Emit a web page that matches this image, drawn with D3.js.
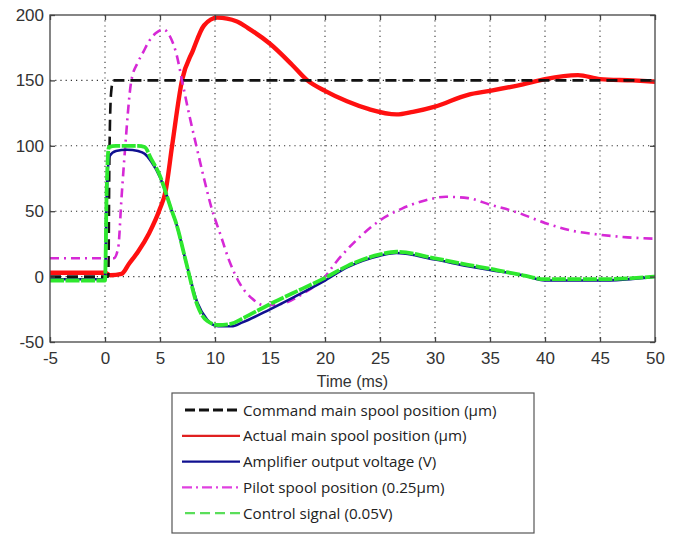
<!DOCTYPE html>
<html>
<head>
<meta charset="utf-8">
<script src="https://cdn.jsdelivr.net/npm/d3@7"></script>
<style>
  body { margin: 0; background: #fff; }
  svg { display: block; }
</style>
</head>
<body>
<svg id="chart" width="678" height="534"></svg>
<script>
// [time ms, value]
const command = [[-5, 0], [0.3, 0], [0.4, 90], [0.55, 140], [0.75, 150], [50, 150]];
const actual = [[-5, 3], [0, 3], [0.5, 1], [1.5, 2], [2.2, 10], [3, 19], [4, 33], [5, 52], [5.5, 65],
  [6.1, 100], [7, 150], [8, 173], [9, 192], [10.2, 198], [12, 195], [13, 190], [15, 178],
  [17, 162], [18.4, 150], [20, 142], [22, 134], [24, 128], [26.5, 124], [28, 126], [30, 130],
  [33, 139], [35, 142], [38, 147], [40, 151], [43, 154], [45, 151], [48, 150], [50, 149]];
const amplifier = [[-5, -2], [0, -2], [0.15, 60], [0.4, 92], [1, 96], [2, 97], [3, 96], [3.6, 94],
  [4.2, 88], [5, 76], [5.5, 65], [6, 52], [6.5, 40], [7.4, 10], [8.4, -20], [9.3, -33], [10.3, -38],
  [11.5, -38], [12.5, -35], [15, -25], [18, -12], [20, -3], [22, 7], [25, 16], [26.5, 18],
  [30, 13], [33, 8], [35, 5], [38, 1], [40, -3], [45, -3], [50, 0]];
const pilot = [[-5, 14], [0.8, 14], [1.2, 22], [1.5, 60], [1.8, 95], [2.4, 150], [3, 164],
  [3.5, 172], [4, 180], [4.6, 186], [5.3, 189], [6, 182], [6.5, 170], [7, 150], [7.7, 122],
  [8.3, 100], [9, 75], [9.7, 52], [10.5, 32], [11.3, 12], [12.3, -6], [13.4, -17], [14.5, -22],
  [16, -21], [18, -13], [20, 0], [21, 11], [23, 29], [25, 43], [27, 52], [29, 58], [31, 61],
  [33, 60], [35, 55], [37.5, 49], [40, 41], [42.5, 35], [45, 32], [47.5, 30], [50, 29]];
const control = [[-5, -3], [0, -3], [0.15, 65], [0.35, 99], [1, 100], [2, 100], [3, 100],
  [3.6, 99], [4.2, 90], [5, 77], [5.5, 65], [6, 52], [6.5, 40], [7.4, 10], [8.4, -22], [9.3, -34],
  [10.3, -37], [11.5, -36], [12.5, -32], [15, -21], [18, -9], [20, -1], [22, 8], [25, 17],
  [26.5, 19], [30, 14], [33, 9], [35, 6], [38, 1], [40, -2], [45, -2], [50, 0]];

const xTicks = [-5, 0, 5, 10, 15, 20, 25, 30, 35, 40, 45, 50];
const yTicks = [-50, 0, 50, 100, 150, 200];

const seriesNames = [
  'Command main spool position (\u00b5m)',
  'Actual main spool position (\u00b5m)',
  'Amplifier output voltage (V)',
  'Pilot spool position (0.25\u00b5m)',
  'Control signal (0.05V)'
];

const svg = d3.select('#chart');
const plotL = 50, plotR = 655, plotT = 15, plotB = 342;

const x = d3.scaleLinear().domain([-5, 50]).range([plotL, plotR]);
const y = d3.scaleLinear().domain([-50, 200]).range([plotB, plotT]);

// grid
const grid = svg.append('g').attr('stroke', '#333').attr('stroke-width', 1.1).attr('stroke-dasharray', '1.2,4');
grid.selectAll('.gx').data(xTicks.slice(1, -1)).enter().append('line')
  .attr('x1', d => x(d)).attr('x2', d => x(d)).attr('y1', plotT).attr('y2', plotB);
grid.selectAll('.gy').data(yTicks.slice(1, -1)).enter().append('line')
  .attr('y1', d => y(d)).attr('y2', d => y(d)).attr('x1', plotL).attr('x2', plotR);

// series
const line = d3.line().x(d => x(d[0])).y(d => y(d[1])).curve(d3.curveMonotoneX);
const series = [
  { data: actual, color: '#ff1010', width: 4.4, dash: null },
  { data: command, color: '#111', width: 2.6, dash: '11,6' },
  { data: pilot, color: '#d629d6', width: 2.6, dash: '9,5,2,5' },
  { data: amplifier, color: '#101090', width: 2.6, dash: null },
  { data: control, color: '#2ee82e', width: 3.8, dash: '14,1.5' }
];
series.forEach(s => {
  svg.append('path').datum(s.data)
    .attr('fill', 'none').attr('stroke', s.color).attr('stroke-width', s.width)
    .attr('stroke-linejoin', 'round')
    .attr('stroke-dasharray', s.dash).attr('d', line);
});

// axes box + ticks
svg.append('rect').attr('x', plotL).attr('y', plotT).attr('width', plotR - plotL).attr('height', plotB - plotT)
  .attr('fill', 'none').attr('stroke', '#444').attr('stroke-width', 1.3);

const fmt = d => String(d);
svg.append('g').attr('transform', `translate(0,${plotB})`)
  .call(d3.axisBottom(x).tickValues(xTicks).tickSize(-5).tickPadding(10).tickFormat(fmt));
svg.append('g').attr('transform', `translate(${plotL},0)`)
  .call(d3.axisLeft(y).tickValues(yTicks).tickSize(-5).tickPadding(6).tickFormat(fmt));
svg.append('g').attr('transform', `translate(0,${plotT})`)
  .call(d3.axisTop(x).tickValues(xTicks).tickSize(-5).tickFormat(''));
svg.append('g').attr('transform', `translate(${plotR},0)`)
  .call(d3.axisRight(y).tickValues(yTicks).tickSize(-5).tickFormat(''));
svg.selectAll('.domain').remove();
svg.selectAll('.tick line').attr('stroke', '#444').attr('stroke-width', 1.3);
svg.selectAll('.tick text').attr('fill', '#333')
  .style('font-family', '"Liberation Sans", Arial, sans-serif').style('font-size', '17px');

svg.append('text').attr('x', x(22.5)).attr('y', 387).attr('text-anchor', 'middle')
  .attr('fill', '#333').style('font-family', '"Liberation Sans", Arial, sans-serif').style('font-size', '16px')
  .text('Time (ms)');

// legend
const lg = svg.append('g');
lg.append('rect').attr('x', 172).attr('y', 393).attr('width', 362).attr('height', 140)
  .attr('fill', '#fff').attr('stroke', '#555').attr('stroke-width', 1.2);
const legendStyles = [
  { color: '#111', width: 2.8, dash: '10,4', x1: 185 },
  { color: '#e02020', width: 2.2, dash: null, x1: 182 },
  { color: '#101090', width: 2.2, dash: null, x1: 182 },
  { color: '#e040e0', width: 2.2, dash: '10,4,2,4', x1: 182 },
  { color: '#5ade5a', width: 2.2, dash: '10,5', x1: 185 }
];
seriesNames.forEach((name, i) => {
  const cy = 410 + i * 25.8;
  const st = legendStyles[i];
  lg.append('line').attr('x1', st.x1).attr('x2', 240).attr('y1', cy).attr('y2', cy)
    .attr('stroke', st.color).attr('stroke-width', st.width).attr('stroke-dasharray', st.dash);
  lg.append('text').attr('x', 243).attr('y', cy + 5.5).attr('fill', '#222')
    .style('font-family', '"Open Sans", sans-serif').style('font-size', '15.2px').text(name);
});
</script>
</body>
</html>
